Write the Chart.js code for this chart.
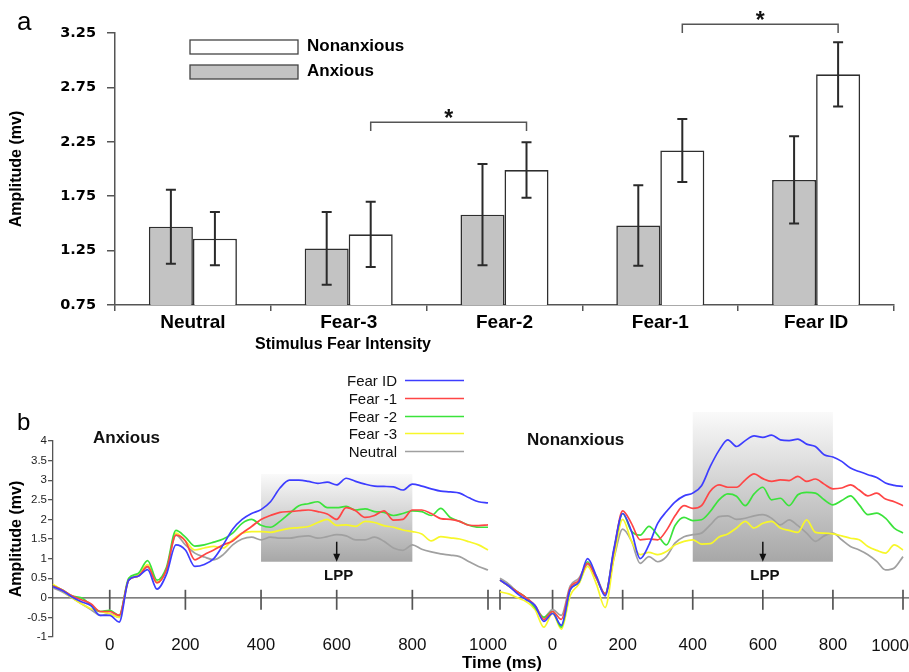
<!DOCTYPE html>
<html><head><meta charset="utf-8">
<script src="https://cdn.jsdelivr.net/npm/chart.js@4.4.1/dist/chart.umd.min.js"></script>
<style>
html,body{margin:0;padding:0;background:#fff;}
#wrap{position:relative;width:909px;height:672px;overflow:hidden;background:#fff;}
canvas{position:absolute;left:0;}
</style></head><body>
<div id="wrap">
<canvas id="bar" width="909" height="360" style="top:0"></canvas>
<canvas id="lineL" width="909" height="312" style="top:360px"></canvas>
<canvas id="lineR" width="909" height="312" style="top:360px"></canvas>
</div>
<script>
// ---------- Panel a: bar chart data ----------
const categories = ['Neutral', 'Fear-3', 'Fear-2', 'Fear-1', 'Fear ID'];
const anxiousMean = [1.47, 1.27, 1.58, 1.48, 1.90];
const anxiousErr = [0.34, 0.335, 0.465, 0.37, 0.40];
const nonanxiousMean = [1.36, 1.40, 1.99, 2.17, 2.87];
const nonanxiousErr = [0.245, 0.30, 0.255, 0.29, 0.295];
const barTicks = [0.75, 1.25, 1.75, 2.25, 2.75, 3.25];
const sigPairs = [[1, 2], [3, 4]];      // category indices compared (Nonanxious bars)
const sigLevels = [2.43, 3.33];
const sigDrop = 0.08;

// ---------- Panel b: ERP waveforms ----------
const times = [-150,-125,-100,-75,-50,-25,0,25,50,75,100,125,150,175,200,225,250,275,300,325,350,375,400,425,450,475,500,525,550,575,600,625,650,675,700,725,750,775,800,825,850,875,900,925,950,975,1000];
const timeTicks = [0, 200, 400, 600, 800, 1000];
const ampTicks = [-1, -0.5, 0, 0.5, 1, 1.5, 2, 2.5, 3, 3.5, 4];
const seriesNames = ['Fear ID', 'Fear -1', 'Fear -2', 'Fear -3', 'Neutral'];
const seriesColors = ['#3d3dff', '#ff4545', '#3be33b', '#f7f72a', '#a0a0a0'];

const anxFearID = [0.28,0.18,0.02,-0.1,-0.2,-0.45,-0.45,-0.62,0.45,0.55,0.72,0.22,0.6,1.35,1.22,0.8,0.85,1.0,1.35,1.75,2.0,2.15,2.25,2.45,2.8,3.0,3.0,2.97,2.92,2.95,2.88,3.05,2.97,2.9,2.85,2.84,2.83,2.75,2.9,2.85,2.78,2.72,2.7,2.67,2.55,2.45,2.42];
const anxFear1 = [0.3,0.2,0.05,-0.05,-0.15,-0.35,-0.35,-0.45,0.45,0.55,0.8,0.38,0.72,1.6,1.45,0.97,1.1,1.22,1.35,1.45,1.65,1.82,2.0,2.1,2.18,2.2,2.22,2.24,2.2,2.14,2.0,2.3,2.22,2.05,2.1,2.22,1.98,2.0,2.24,2.24,2.15,2.02,2.0,1.95,1.85,1.84,1.86];
const anxFear2 = [0.3,0.2,0.05,0.0,-0.18,-0.35,-0.32,-0.45,0.5,0.62,0.95,0.45,0.78,1.72,1.55,1.32,1.35,1.42,1.5,1.65,1.9,2.0,1.85,1.8,1.95,2.15,2.35,2.4,2.45,2.3,2.3,2.33,2.24,2.27,2.2,2.18,2.1,2.15,2.22,2.2,2.1,2.28,2.05,1.95,1.85,1.8,1.8];
const anxFear3 = [0.35,0.18,0.0,-0.15,-0.28,-0.35,-0.4,-0.5,0.45,0.58,0.85,0.4,0.72,1.65,1.45,1.22,1.27,1.31,1.27,1.48,1.65,1.69,1.69,1.67,1.72,1.77,1.79,1.82,1.92,2.0,1.85,1.86,1.82,1.95,1.92,1.84,1.8,1.73,1.69,1.63,1.45,1.56,1.53,1.5,1.43,1.35,1.22];
const anxNeutral = [0.25,0.15,0.0,-0.15,-0.3,-0.45,-0.4,-0.5,0.45,0.55,0.78,0.4,0.72,1.6,1.35,1.14,1.04,0.97,1.1,1.35,1.5,1.55,1.48,1.55,1.52,1.52,1.56,1.58,1.52,1.56,1.61,1.58,1.48,1.48,1.55,1.44,1.27,1.21,1.35,1.24,1.17,1.12,1.09,1.05,0.92,0.8,0.71];

const nonFearID = [0.45,0.3,0.1,-0.05,-0.2,-0.6,-0.4,-0.7,0.2,0.4,1.0,0.55,0.05,1.25,2.15,1.7,1.0,1.35,1.9,2.2,2.45,2.6,2.67,2.86,3.35,3.76,4.03,3.86,4.01,4.13,4.09,4.15,4.03,4.01,4.05,3.92,3.86,3.65,3.59,3.48,3.31,3.22,3.14,3.07,2.93,2.87,2.84];
const nonFear1 = [0.45,0.3,0.15,0.0,-0.2,-0.55,-0.35,-0.55,0.25,0.45,0.88,0.5,0.1,1.2,2.22,1.9,1.48,1.5,1.48,1.72,2.1,2.35,2.28,2.35,2.72,2.88,2.82,2.82,3.01,3.16,3.04,2.97,3.01,2.99,3.1,2.97,3.03,2.9,2.78,2.8,2.88,2.75,2.6,2.67,2.52,2.45,2.35];
const nonFear2 = [0.45,0.3,0.15,0.0,-0.25,-0.5,-0.35,-0.75,0.2,0.4,0.92,0.5,0.1,1.2,2.15,1.7,1.6,1.82,1.6,1.35,1.85,2.05,1.97,1.99,2.2,2.5,2.65,2.59,2.35,2.65,2.82,2.5,2.54,2.35,2.63,2.69,2.67,2.5,2.37,2.48,2.6,2.37,2.12,2.16,2.03,1.78,1.65];
const nonFear3 = [0.15,0.1,0.0,-0.1,-0.3,-0.75,-0.4,-0.8,0.05,0.35,0.8,0.35,-0.25,1.0,2.0,1.45,1.1,1.16,1.1,1.18,1.35,1.44,1.48,1.37,1.38,1.55,1.63,1.78,1.95,1.78,1.9,1.95,1.78,1.72,1.67,1.99,1.67,1.65,1.63,1.58,1.52,1.48,1.31,1.21,1.14,1.35,1.22];
const nonNeutral = [0.5,0.35,0.15,0.0,-0.2,-0.5,-0.3,-0.45,0.3,0.5,0.85,0.55,0.1,1.0,1.75,1.45,0.88,1.05,0.92,1.05,1.4,1.56,1.61,1.65,1.86,2.07,2.09,2.0,2.03,2.09,2.12,2.03,1.86,1.99,1.84,1.65,1.44,1.58,1.65,1.48,1.31,1.22,1.1,0.93,0.71,0.76,1.05];

const lppWindow = [400, 800];
const lppBandAnx = [0.92, 3.16];
const lppBandNon = [0.92, 4.74];
const lppArrow = [600, 1.43, 0.92, 0.56]; // time, arrow top, arrow tip, label level

const FONT = '"Liberation Sans", Arial, Helvetica, sans-serif';
Chart.defaults.font.family = FONT;
Chart.defaults.color = '#000';

// ---------- bar chart decorations ----------
const barDecor = {
  id: 'barDecor',
  afterDatasetsDraw(chart) {
    const {ctx, scales: {y}} = chart;
    ctx.save();
    const errs = [anxiousErr, nonanxiousErr];
    chart.data.datasets.forEach((ds, di) => {
      const meta = chart.getDatasetMeta(di);
      meta.data.forEach((bar, i) => {
        const m = ds.data[i], e = errs[di][i];
        const yt = y.getPixelForValue(m + e), yb = y.getPixelForValue(m - e);
        ctx.strokeStyle = '#2a2a2a'; ctx.lineWidth = 2;
        ctx.beginPath();
        ctx.moveTo(bar.x, yt); ctx.lineTo(bar.x, yb);
        ctx.moveTo(bar.x - 5, yt); ctx.lineTo(bar.x + 5, yt);
        ctx.moveTo(bar.x - 5, yb); ctx.lineTo(bar.x + 5, yb);
        ctx.stroke();
      });
    });
    const metaN = chart.getDatasetMeta(1);
    sigPairs.forEach((p, k) => {
      const x1 = metaN.data[p[0]].x, x2 = metaN.data[p[1]].x;
      const yh = y.getPixelForValue(sigLevels[k]);
      const ye = y.getPixelForValue(sigLevels[k] - sigDrop);
      ctx.strokeStyle = '#555'; ctx.lineWidth = 1.5;
      ctx.beginPath();
      ctx.moveTo(x1, ye); ctx.lineTo(x1, yh); ctx.lineTo(x2, yh); ctx.lineTo(x2, ye);
      ctx.stroke();
      ctx.fillStyle = '#111';
      ctx.font = 'bold 23px ' + FONT;
      ctx.textAlign = 'center'; ctx.textBaseline = 'alphabetic';
      ctx.fillText('*', (x1 + x2) / 2, yh + 4);
    });
    ctx.restore();
  },
  afterDraw(chart) {
    const {ctx} = chart;
    ctx.save();
    ctx.fillStyle = '#000';
    ctx.font = '26px ' + FONT;
    ctx.textAlign = 'left'; ctx.textBaseline = 'alphabetic';
    ctx.fillText('a', 17, 30);
    const items = [chart.data.datasets[1], chart.data.datasets[0]];
    items.forEach((ds, k) => {
      const top = 40 + k * 25;
      ctx.fillStyle = ds.backgroundColor;
      ctx.fillRect(190, top, 108, 14);
      ctx.strokeStyle = '#444'; ctx.lineWidth = 1.3;
      ctx.strokeRect(190, top, 108, 14);
      ctx.fillStyle = '#000';
      ctx.font = 'bold 17px ' + FONT;
      ctx.textBaseline = 'middle';
      ctx.fillText(ds.label, 307, top + 6);
    });
    ctx.font = 'bold 16px ' + FONT;
    ctx.textAlign = 'center'; ctx.textBaseline = 'middle';
    ctx.fillText('Stimulus Fear Intensity', 343, 345);
    ctx.restore();
  }
};

new Chart(document.getElementById('bar'), {
  type: 'bar',
  data: {
    labels: categories,
    datasets: [
      {label: 'Anxious', data: anxiousMean, backgroundColor: '#c3c3c3', borderColor: '#2e2e2e', borderWidth: 1.6, categoryPercentage: 0.565, barPercentage: 1},
      {label: 'Nonanxious', data: nonanxiousMean, backgroundColor: '#ffffff', borderColor: '#2e2e2e', borderWidth: 1.6, categoryPercentage: 0.565, barPercentage: 1}
    ]
  },
  options: {
    responsive: false, animation: false, devicePixelRatio: 1, events: [],
    layout: {padding: {left: 0, right: 15, top: 33, bottom: 0}, autoPadding: false},
    plugins: {legend: {display: false}, tooltip: {enabled: false}},
    scales: {
      x: {
        grid: {offset: true, drawOnChartArea: false, drawTicks: true, tickLength: 6, color: '#555', lineWidth: 1.5},
        border: {display: true, color: '#555', width: 1.5},
        ticks: {color: '#000', font: {weight: 'bold', size: 19}, padding: 0, maxRotation: 0},
        afterFit(s) { s.height = 55; }
      },
      y: {
        min: 0.75, max: 3.25,
        afterBuildTicks(s) { s.ticks = barTicks.map(v => ({value: v})); },
        ticks: {color: '#000', font: {family: '"DejaVu Sans", sans-serif', weight: 'bold', size: 14.5}, padding: 11, callback: v => Number(v).toFixed(2)},
        grid: {drawOnChartArea: false, tickLength: 8, color: '#555', lineWidth: 1.5},
        border: {display: true, color: '#555', width: 1.5},
        title: {display: true, text: 'Amplitude (mv)', color: '#000', font: {weight: 'bold', size: 16}, padding: {top: 7, bottom: 0}},
        afterFit(s) { s.width = 115; }
      }
    }
  },
  plugins: [barDecor]
});

// ---------- ERP panels ----------
function makeDatasets(arrs) {
  return arrs.map((arr, k) => ({
    label: seriesNames[k],
    data: times.map((t, i) => ({x: t, y: arr[i]})),
    borderColor: seriesColors[k],
    borderWidth: 1.7,
    pointRadius: 0,
    cubicInterpolationMode: 'monotone',
    clip: false
  }));
}

function panelPlugin(cfg) {
  return {
    id: 'panel' + cfg.key,
    beforeDatasetsDraw(chart) {
      const {ctx, chartArea: a, scales: {x, y}} = chart;
      ctx.save();
      const x1 = x.getPixelForValue(lppWindow[0]), x2 = x.getPixelForValue(lppWindow[1]);
      const yT = y.getPixelForValue(cfg.band[1]), yB = y.getPixelForValue(cfg.band[0]);
      const g = ctx.createLinearGradient(0, yT, 0, yB);
      g.addColorStop(0, '#fafafa');
      g.addColorStop(1, '#a7a7a7');
      ctx.fillStyle = g;
      ctx.fillRect(x1, yT, x2 - x1, yB - yT);
      const y0 = y.getPixelForValue(0);
      ctx.strokeStyle = '#555'; ctx.lineWidth = 1.3;
      ctx.beginPath(); ctx.moveTo(a.left, y0); ctx.lineTo(cfg.lineEnd, y0); ctx.stroke();
      ctx.lineWidth = 1.7;
      const tx = timeTicks.map(v => x.getPixelForValue(v));
      if (cfg.startTick) tx.push(a.left);
      tx.forEach(px => {
        ctx.beginPath(); ctx.moveTo(px, y0 - 8); ctx.lineTo(px, y0 + 12); ctx.stroke();
      });
      ctx.restore();
    },
    afterDatasetsDraw(chart) {
      const {ctx, chartArea: a, scales: {x, y}} = chart;
      ctx.save();
      const ax = x.getPixelForValue(lppArrow[0]);
      const yA = y.getPixelForValue(lppArrow[1]), yTip = y.getPixelForValue(lppArrow[2]);
      ctx.strokeStyle = '#111'; ctx.fillStyle = '#111'; ctx.lineWidth = 1.5;
      ctx.beginPath(); ctx.moveTo(ax, yA); ctx.lineTo(ax, yTip - 6); ctx.stroke();
      ctx.beginPath(); ctx.moveTo(ax - 3.5, yTip - 8); ctx.lineTo(ax + 3.5, yTip - 8); ctx.lineTo(ax, yTip); ctx.closePath(); ctx.fill();
      ctx.font = 'bold 15px ' + FONT;
      ctx.textAlign = 'center'; ctx.textBaseline = 'middle';
      ctx.fillText('LPP', ax + 2, y.getPixelForValue(lppArrow[3]));
      ctx.font = 'bold 17px ' + FONT;
      ctx.textAlign = 'left';
      ctx.fillText(cfg.title, cfg.titleX, cfg.titleY);
      if (cfg.edgeLabel) {
        ctx.font = '17px ' + FONT;
        ctx.fillStyle = '#111';
        ctx.textAlign = 'right'; ctx.textBaseline = 'middle';
        ctx.fillText(String(timeTicks[timeTicks.length - 1]), chart.width, a.bottom + 9);
      }
      ctx.restore();
    },
    afterDraw(chart) {
      if (!cfg.extras) return;
      const {ctx} = chart;
      ctx.save();
      ctx.fillStyle = '#000';
      ctx.font = '24px ' + FONT;
      ctx.textAlign = 'left'; ctx.textBaseline = 'alphabetic';
      ctx.fillText('b', 17, 70);
      const rows = [22, 40, 58, 75, 93];
      chart.data.datasets.forEach((ds, k) => {
        const yy = rows[k];
        ctx.font = '15px ' + FONT;
        ctx.textAlign = 'right'; ctx.textBaseline = 'middle';
        ctx.fillStyle = '#111';
        ctx.fillText(ds.label, 397, yy);
        ctx.strokeStyle = ds.borderColor; ctx.lineWidth = 1.7;
        ctx.beginPath(); ctx.moveTo(405, yy - 1.5); ctx.lineTo(464, yy - 1.5); ctx.stroke();
      });
      ctx.font = 'bold 17px ' + FONT;
      ctx.textAlign = 'center'; ctx.textBaseline = 'middle';
      ctx.fillStyle = '#000';
      ctx.fillText('Time (ms)', 502, 303);
      ctx.restore();
    }
  };
}

function lineOptions(padding, showY, edgeLabel) {
  return {
    responsive: false, animation: false, devicePixelRatio: 1, events: [],
    layout: {padding: padding, autoPadding: false},
    plugins: {legend: {display: false}, tooltip: {enabled: false}},
    scales: {
      x: {
        type: 'linear', min: -150, max: 1000,
        afterBuildTicks(s) { s.ticks = timeTicks.map(v => ({value: v})); },
        grid: {display: false, drawTicks: false},
        border: {display: false},
        ticks: {color: '#111', font: {size: 17}, padding: -2, autoSkip: false, maxRotation: 0,
          callback: v => (edgeLabel && v === timeTicks[timeTicks.length - 1]) ? '' : String(v)},
        afterFit(s) { s.height = 35; }
      },
      y: {
        display: showY,
        min: -1, max: 4,
        afterBuildTicks(s) { s.ticks = ampTicks.map(v => ({value: v})); },
        ticks: {color: '#222', font: {size: 11.5}, padding: 1, callback: v => String(v)},
        grid: {drawOnChartArea: false, tickLength: 5, color: '#555', lineWidth: 1.3},
        border: {display: true, color: '#555', width: 1.3},
        title: {display: true, text: 'Amplitude (mv)', color: '#000', font: {weight: 'bold', size: 16}, padding: {top: 7, bottom: 0}},
        afterFit(s) { s.width = showY ? 53 : 0; }
      }
    }
  };
}

new Chart(document.getElementById('lineL'), {
  type: 'line',
  data: {datasets: makeDatasets([anxFearID, anxFear1, anxFear2, anxFear3, anxNeutral])},
  options: lineOptions({left: 0, right: 421, top: 81, bottom: 0}, true, false),
  plugins: [panelPlugin({key: 'L', band: lppBandAnx, lineEnd: 500, startTick: false, title: 'Anxious', titleX: 93, titleY: 78, extras: true, edgeLabel: false})]
});

new Chart(document.getElementById('lineR'), {
  type: 'line',
  data: {datasets: makeDatasets([nonFearID, nonFear1, nonFear2, nonFear3, nonNeutral])},
  options: lineOptions({left: 500, right: 6, top: 81, bottom: 0}, false, true),
  plugins: [panelPlugin({key: 'R', band: lppBandNon, lineEnd: 909, startTick: true, title: 'Nonanxious', titleX: 527, titleY: 80, extras: false, edgeLabel: true})]
});
</script>
</body></html>
